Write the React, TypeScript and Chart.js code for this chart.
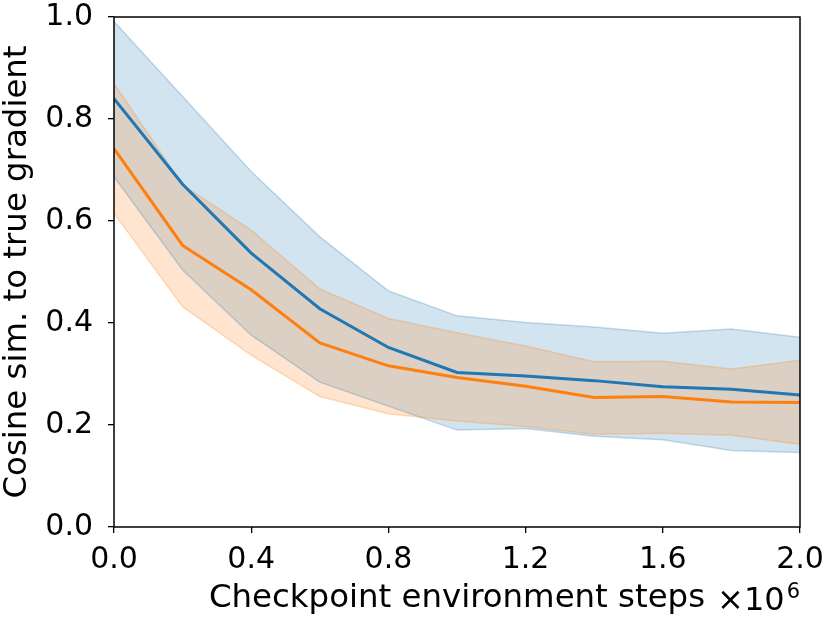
import React, { useEffect, useRef } from "react";
import { Chart, registerables } from "chart.js";

Chart.register(...registerables);

const steps = [0, 0.2, 0.4, 0.6, 0.8, 1.0, 1.2, 1.4, 1.6, 1.8, 2.0];
const blueMean = [0.840, 0.672, 0.537, 0.428, 0.352, 0.303, 0.296, 0.287, 0.275, 0.270, 0.259];
const blueUpper = [0.991, 0.844, 0.697, 0.569, 0.463, 0.414, 0.401, 0.392, 0.380, 0.388, 0.372];
const blueLower = [0.687, 0.504, 0.376, 0.284, 0.237, 0.190, 0.193, 0.178, 0.171, 0.150, 0.146];
const orangeMean = [0.742, 0.552, 0.465, 0.361, 0.316, 0.293, 0.276, 0.254, 0.256, 0.245, 0.244];
const orangeUpper = [0.870, 0.671, 0.582, 0.467, 0.409, 0.381, 0.355, 0.324, 0.325, 0.310, 0.327];
const orangeLower = [0.615, 0.432, 0.337, 0.256, 0.222, 0.208, 0.197, 0.182, 0.184, 0.180, 0.162];

const xLabel = "Checkpoint environment steps";
const yLabel = "Cosine sim. to true gradient";
const xOffsetBase = "×10";
const xOffsetExp = "6";

const FONT = '"DejaVu Sans", sans-serif';
const BLUE = "#1f77b4";
const ORANGE = "#ff7f0e";

const pts = (ys: number[]) => steps.map((x, i) => ({ x, y: ys[i] }));

const framePlugin = {
  id: "frame",
  afterDraw(chart: any) {
    const { ctx, chartArea: a } = chart;
    ctx.save();
    ctx.strokeStyle = "#000";
    ctx.lineWidth = 1.5;
    ctx.strokeRect(a.left, a.top, a.right - a.left, a.bottom - a.top);
    ctx.fillStyle = "#000";
    ctx.textBaseline = "alphabetic";
    ctx.textAlign = "right";
    ctx.font = `21px ${FONT}`;
    const w6 = ctx.measureText(xOffsetExp).width;
    ctx.fillText(xOffsetExp, a.right, 598);
    ctx.font = `32px ${FONT}`;
    ctx.fillText(xOffsetBase, a.right - w6 - 2, 610);
    ctx.restore();
  },
};

export default function App() {
  const ref = useRef<HTMLCanvasElement | null>(null);
  useEffect(() => {
    if (!ref.current) return;
    const chart = new Chart(ref.current, {
      type: "line",
      data: {
        datasets: [
          { data: pts(blueUpper), borderColor: "rgba(31,119,180,0.25)", backgroundColor: "rgba(31,119,180,0.2)", borderWidth: 1.5, pointRadius: 0, fill: "+1", order: 4 },
          { data: pts(blueLower), borderColor: "rgba(31,119,180,0.25)", backgroundColor: "rgba(31,119,180,0.2)", borderWidth: 1.5, pointRadius: 0, fill: false, order: 4 },
          { data: pts(orangeUpper), borderColor: "rgba(255,127,14,0.25)", backgroundColor: "rgba(255,127,14,0.2)", borderWidth: 1.5, pointRadius: 0, fill: "+1", order: 3 },
          { data: pts(orangeLower), borderColor: "rgba(255,127,14,0.25)", backgroundColor: "rgba(255,127,14,0.2)", borderWidth: 1.5, pointRadius: 0, fill: false, order: 3 },
          { data: pts(blueMean), borderColor: BLUE, borderWidth: 3, pointRadius: 0, fill: false, order: 2 },
          { data: pts(orangeMean), borderColor: ORANGE, borderWidth: 3, pointRadius: 0, fill: false, order: 1 },
        ],
      },
      options: {
        animation: false,
        responsive: true,
        maintainAspectRatio: false,
        events: [],
        layout: { padding: { top: 17, right: 30, left: 0, bottom: 0 } },
        plugins: {
          legend: { display: false },
          tooltip: { enabled: false },
          filler: { drawTime: "beforeDatasetsDraw" },
        },
        scales: {
          x: {
            type: "linear",
            min: 0,
            max: 2,
            border: { display: false },
            grid: { drawOnChartArea: false, drawTicks: true, tickLength: 6, color: "#000", lineWidth: 1.3 },
            ticks: {
              stepSize: 0.4,
              color: "#000",
              padding: 12.5,
              font: { family: FONT, size: 30, lineHeight: 1 },
              maxRotation: 0,
              callback: (v: any) => Number(v).toFixed(1),
            },
            title: {
              display: true,
              text: xLabel,
              color: "#000",
              font: { family: FONT, size: 32.4, lineHeight: 1 },
              padding: { top: 0, bottom: 8 },
            },
            afterFit: (s: any) => {
              s.height = 96;
              s.paddingLeft = 0;
              s.paddingRight = 0;
            },
          },
          y: {
            type: "linear",
            min: 0,
            max: 1,
            border: { display: false },
            grid: { drawOnChartArea: false, drawTicks: true, tickLength: 6, color: "#000", lineWidth: 1.3 },
            ticks: {
              stepSize: 0.2,
              color: "#000",
              padding: 15,
              font: { family: FONT, size: 30, lineHeight: 1 },
              callback: (v: any) => Number(v).toFixed(1),
            },
            title: {
              display: true,
              text: yLabel,
              color: "#000",
              font: { family: FONT, size: 32.4, lineHeight: 1 },
              padding: { top: 1, bottom: 0 },
            },
            afterFit: (s: any) => {
              s.width = 114;
              s.paddingTop = 0;
              s.paddingBottom = 0;
            },
          },
        },
      },
      plugins: [framePlugin],
    });
    return () => chart.destroy();
  }, []);
  return (
    <div style={{ position: "absolute", left: 0, top: 0, width: 830, height: 623 }}>
      <canvas ref={ref} />
    </div>
  );
}
